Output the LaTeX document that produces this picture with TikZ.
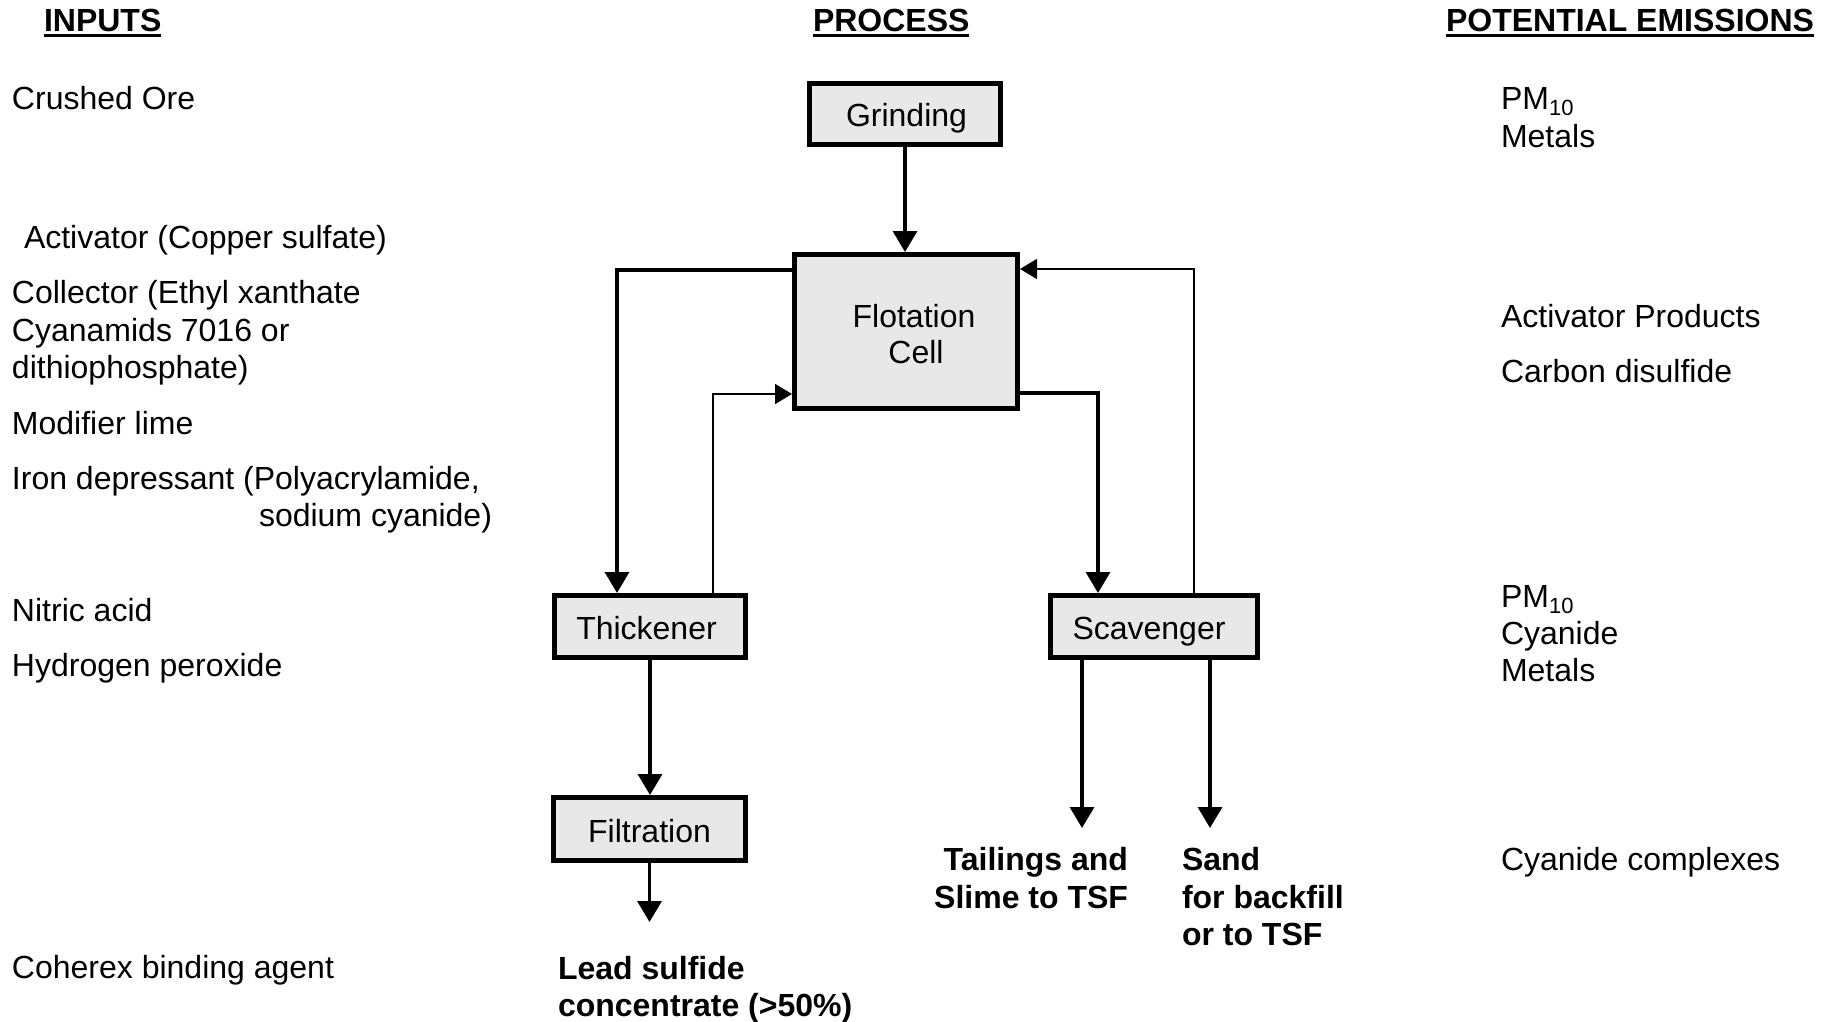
\documentclass[tikz,border=0pt]{standalone}
\usepackage{fontspec}
\setmainfont{Liberation Sans}
\usetikzlibrary{arrows.meta}
\definecolor{boxfill}{RGB}{232,232,232}
\begin{document}
\begin{tikzpicture}[x=1pt,y=-1pt,
  every node/.style={inner sep=0pt, outer sep=0pt},
  txt/.style={font=\fontsize{32}{38}\selectfont, anchor=base west},
  bld/.style={font=\fontsize{32}{38}\selectfont\bfseries},
  hdr/.style={font=\fontsize{32}{38}\selectfont\bfseries, anchor=base west},
  pbox/.style={draw, line width=5pt, fill=boxfill, outer sep=2.5pt,
    text height=26pt, text depth=0pt, font=\fontsize{32}{38}\selectfont},
  flowthick/.style={line width=3.5pt, -{Triangle[length=21pt,width=24pt]}},
  flowthin/.style={line width=1.6pt, -{Triangle[length=17pt,width=20pt]}},
  uline/.style={line width=3.5pt}
]
\useasboundingbox (0,0) rectangle (1834,1022);

% column headers
\node[hdr] (hin) at (44,32) {INPUTS};
\node[hdr] (hproc) at (813,32) {PROCESS};
\node[hdr] (hem) at (1446,32) {POTENTIAL EMISSIONS};
\foreach \h in {hin,hproc,hem}
  \draw[uline] ([yshift=-3.3pt]\h.base west) -- ([yshift=-3.3pt]\h.base east);

% process boxes
\node[pbox, minimum width=191pt, minimum height=61pt] (grind) at (905,114) {\kern3pt Grinding};
\node[pbox, minimum width=223pt, minimum height=154pt] (flot) at (906,331.5) {};
\node[font=\fontsize{32}{38}\selectfont, anchor=base] (flot1) at (914,327) {Flotation};
\node[font=\fontsize{32}{38}\selectfont, anchor=base] (flot2) at (916,363) {Cell};
\node[pbox, minimum width=191pt, minimum height=62pt] (thk) at (650,626.5) {\kern-7pt Thickener};
\node[pbox, minimum width=192pt, minimum height=63pt] (filt) at (649.5,829) {Filtration};
\node[pbox, minimum width=207pt, minimum height=62pt] (scv) at (1154,626.5) {\kern-10pt Scavenger};

% free ends of the outgoing streams
\coordinate (leadout) at (650,922);
\coordinate (tailout) at (1082,828);
\coordinate (sandout) at (1210,828);

% connectors
\draw[flowthick] (grind.south) -- (grind.south |- flot.north);
\draw[flowthick] ([yshift=61.5pt]flot.west) -| ([xshift=-33pt]thk.north);
\draw[flowthin] ([xshift=63pt]thk.north) |- ([yshift=-62.5pt]flot.west);
\draw[flowthick] ([yshift=-61.5pt]flot.east) -| ([xshift=-56pt]scv.north);
\draw[flowthin] ([xshift=40pt]scv.north) |- ([yshift=62.5pt]flot.east);
\draw[flowthick] (thk.south) -- (thk.south |- filt.north);
\draw[flowthick] (filt.south) -- (filt.south |- leadout);
\draw[flowthick] (scv.south -| tailout) -- (tailout);
\draw[flowthick] (scv.south -| sandout) -- (sandout);

% inputs
\node[txt] (i1) at (12,110) {Crushed Ore};
\node[txt] (i2) at (24,248) {Activator (Copper sulfate)};
\node[txt] (i3) at (12,303) {Collector (Ethyl xanthate};
\node[txt] (i4) at (12,341) {Cyanamids 7016 or};
\node[txt] (i5) at (12,378) {dithiophosphate)};
\node[txt] (i6) at (12,434) {Modifier lime};
\node[txt] (i7) at (12,489) {Iron depressant (Polyacrylamide,};
\node[txt] (i8) at (259,526) {sodium cyanide)};
\node[txt] (i9) at (12,621) {Nitric acid};
\node[txt] (i10) at (12,676) {Hydrogen peroxide};
\node[txt] (i11) at (12,978) {Coherex binding agent};

% potential emissions
\newcommand{\pmten}{PM\raisebox{-6pt}{\fontsize{22}{22}\selectfont 10}}
\node[txt] (e1) at (1501,110) {\pmten};
\node[txt] (e2) at (1501,147) {Metals};
\node[txt] (e3) at (1501,327) {Activator Products};
\node[txt] (e4) at (1501,382) {Carbon disulfide};
\node[txt] (e5) at (1501,607) {\pmten};
\node[txt] (e6) at (1501,644) {Cyanide};
\node[txt] (e7) at (1501,681) {Metals};
\node[txt] (e8) at (1501,870) {Cyanide complexes};

% products
\node[bld, anchor=base west] (p1) at (558,979) {Lead sulfide};
\node[bld, anchor=base west] (p2) at (558,1016) {concentrate (>50\%)};
\node[bld, anchor=base east] (p3) at (1128,870) {Tailings and};
\node[bld, anchor=base east] (p4) at (1128,908) {Slime to TSF};
\node[bld, anchor=base west] (p5) at (1182,870) {Sand};
\node[bld, anchor=base west] (p6) at (1182,908) {for backfill};
\node[bld, anchor=base west] (p7) at (1182,945) {or to TSF};
\end{tikzpicture}
\end{document}
